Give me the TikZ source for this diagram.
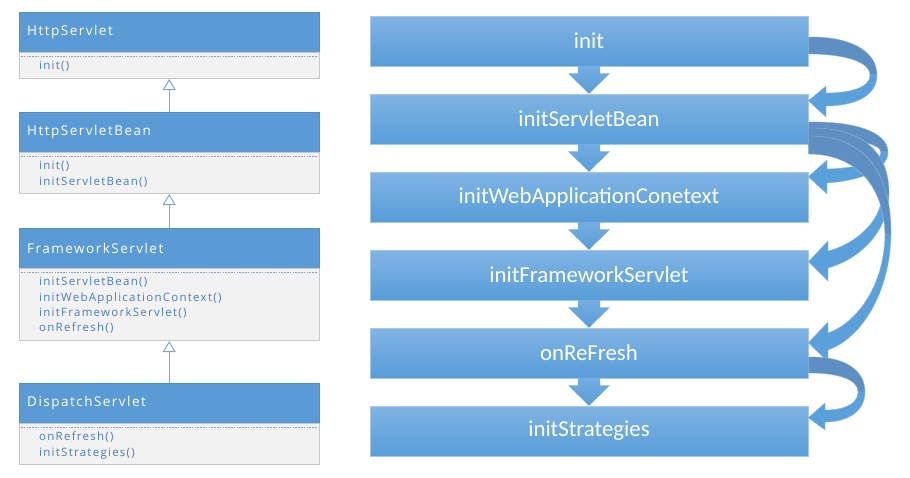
\documentclass[tikz,border=0pt]{standalone}
\usepackage{fontspec}
\setmainfont{Carlito}
\newfontfamily\umlfont[LetterSpace=11]{Open Sans}
\usetikzlibrary{calc,arrows.meta}

\definecolor{hdrblue}{RGB}{91,155,213}
\definecolor{hdredge}{RGB}{84,140,196}
\definecolor{bodygray}{RGB}{242,242,242}
\definecolor{bodyline}{RGB}{196,200,206}
\definecolor{dashgray}{RGB}{140,160,186}
\definecolor{methblue}{RGB}{74,124,192}
\definecolor{inhblue}{RGB}{125,166,212}
\definecolor{steptop}{RGB}{128,180,228}
\definecolor{stepbot}{RGB}{88,157,216}
\definecolor{stepedge}{RGB}{165,200,234}
\definecolor{ribdark}{RGB}{93,143,194}
\definecolor{riblight}{RGB}{90,161,219}
\definecolor{ribedge}{RGB}{150,185,220}

\begin{document}
\begin{tikzpicture}[x=1pt,y=-1pt,
  umlhead/.style={rectangle, anchor=north west, fill=hdrblue, draw=hdredge, line width=0.4pt,
    text=white, font=\umlfont\fontsize{13.5}{15}\selectfont, text width=284pt, align=left,
    inner xsep=8pt, inner ysep=0pt, minimum height=40pt},
  umlbody/.style={rectangle, anchor=north, fill=bodygray, draw=bodyline, line width=0.6pt,
    minimum width=300pt, inner sep=0pt},
  umldash/.style={draw=dashgray, line width=0.5pt, dash pattern=on 1.6pt off 1.2pt},
  umlmeth/.style={anchor=base west, inner sep=0pt, text=methblue,
    font=\umlfont\fontsize{11.5}{13}\selectfont},
  inherit/.style={draw=inhblue, line width=1pt, -{Triangle[open, width=13pt, length=11pt]}},
  stepbox/.style={rectangle, minimum width=438pt, minimum height=50pt, inner sep=0pt,
    top color=steptop, bottom color=stepbot, draw=stepedge, line width=0.5pt,
    text=white, font=\fontsize{22.8}{26}\selectfont},
  flowdown/.style={top color=steptop!70!stepbot, bottom color=stepbot, draw=none},
  ribbonback/.style={fill=ribdark, draw=ribedge, line width=0.4pt},
  ribbonfront/.style={fill=riblight, draw=ribedge, line width=0.4pt},
]
\useasboundingbox (0,0) rectangle (910,477);

% ---------- class hierarchy ----------
\node[umlhead] (c1) at (19,12) {HttpServlet};
\node[umlbody, minimum height=26pt] (c1b) at (c1.south) {};
\node[umlhead] (c2) at (19,112) {HttpServletBean};
\node[umlbody, minimum height=41pt] (c2b) at (c2.south) {};
\node[umlhead] (c3) at (19,228) {FrameworkServlet};
\node[umlbody, minimum height=72pt] (c3b) at (c3.south) {};
\node[umlhead] (c4) at (19,383) {DispatchServlet};
\node[umlbody, minimum height=41pt] (c4b) at (c4.south) {};

\foreach \b in {c1b,c2b,c3b,c4b}
  \draw[umldash] ($(\b.north west)+(2,4)$) -- ($(\b.north east)+(-2,4)$);

\foreach \m [count=\i] in {init()}
  \node[umlmeth] (c1m\i) at ($(c1.south west)+(20,{17.5+15.3*(\i-1)})$) {\m};
\foreach \m [count=\i] in {init(), initServletBean()}
  \node[umlmeth] (c2m\i) at ($(c2.south west)+(20,{17.5+15.3*(\i-1)})$) {\m};
\foreach \m [count=\i] in {initServletBean(), initWebApplicationContext(), initFrameworkServlet(), onRefresh()}
  \node[umlmeth] (c3m\i) at ($(c3.south west)+(20,{17.5+15.3*(\i-1)})$) {\m};
\foreach \m [count=\i] in {onRefresh(), initStrategies()}
  \node[umlmeth] (c4m\i) at ($(c4.south west)+(20,{17.5+15.3*(\i-1)})$) {\m};

\draw[inherit] (c2.north) -- (c1b.south);
\draw[inherit] (c3.north) -- (c2b.south);
\draw[inherit] (c4.north) -- (c3b.south);

% ---------- call sequence ----------
\node[stepbox] (s1) at (589,41)  {init};
\node[stepbox] (s2) at (589,119) {initServletBean};
\node[stepbox] (s3) at (589,197) {initWebApplicationConetext};
\node[stepbox] (s4) at (589,275) {initFrameworkServlet};
\node[stepbox] (s5) at (589,353) {onReFresh};
\node[stepbox] (s6) at (589,431) {initStrategies};

\foreach \a/\b in {s1/s2, s2/s3, s3/s4, s4/s5, s5/s6}
  \path[flowdown] ($(\a.south)+(-11,-0.5)$) -- ($(\a.south)+(11,-0.5)$) -- ($(\a.south)+(11,7)$)
    -- ($(\a.south)+(21,7)$) -- (\b.north) -- ($(\a.south)+(-21,7)$) -- ($(\a.south)+(-11,7)$) -- cycle;

% init -> initServletBean
\path[ribbonback] ($(s1.east)+(0,-4)$) .. controls (848,36) and (877,50) .. (877,75)
  -- (870,75) .. controls (870,62) and (845,54) .. ($(s1.east)+(0,13)$) -- cycle;
\path[ribbonfront] (877,75) .. controls (877,97) and (853,106) .. (826,106) -- (826,117)
  -- ($(s2.north east)+(0,7)$) -- (826,86) -- (826,93)
  .. controls (849,93) and (870,88) .. (870,75) -- cycle;

% initServletBean -> initWebApplicationConetext
\path[ribbonback] ($(s2.east)+(0,3)$) .. controls (855,121) and (888,132) .. (888,152)
  -- (881,152) .. controls (880,143) and (850,138) .. ($(s2.east)+(0,19)$) -- cycle;
\path[ribbonfront] (888,152) .. controls (888,171) and (858,181) .. (827,183) -- (827,194)
  -- ($(s3.north east)+(0,5)$) -- (827,160) -- (827,169)
  .. controls (855,168) and (881,163) .. (881,152) -- cycle;

% initServletBean -> initFrameworkServlet
\path[ribbonback] ($(s2.east)+(0,9)$) .. controls (860,127) and (890,150) .. (889,195)
  -- (882,195) .. controls (881,165) and (850,146) .. ($(s2.east)+(0,27)$) -- cycle;
\path[ribbonfront] (889,195) .. controls (888,232) and (860,259) .. (828,268) -- (828,281)
  -- ($(s4.north east)+(0,12)$) -- (828,241) -- (828,251)
  .. controls (855,244) and (881,222) .. (882,195) -- cycle;

% initServletBean -> onReFresh
\path[ribbonback] ($(s2.east)+(0,17)$) .. controls (866,135) and (892,175) .. (891,235)
  -- (885,235) .. controls (884,186) and (856,154) .. ($(s2.east)+(0,35)$) -- cycle;
\path[ribbonfront] (891,235) .. controls (890,292) and (862,338) .. (828,350) -- (828,362)
  -- ($(s5.north east)+(0,15)$) -- (828,322) -- (828,333)
  .. controls (856,323) and (884,287) .. (885,235) -- cycle;

% onReFresh -> initStrategies
\path[ribbonback] ($(s5.east)+(0,4)$) .. controls (845,356) and (865,370) .. (865,392)
  -- (858,392) .. controls (858,380) and (840,373) .. ($(s5.east)+(0,20)$) -- cycle;
\path[ribbonfront] (865,392) .. controls (865,412) and (847,422) .. (825,422) -- (825,430)
  -- ($(s6.north east)+(0,12)$) -- (825,403) -- (825,410)
  .. controls (844,410) and (858,404) .. (858,392) -- cycle;

\end{tikzpicture}
\end{document}
